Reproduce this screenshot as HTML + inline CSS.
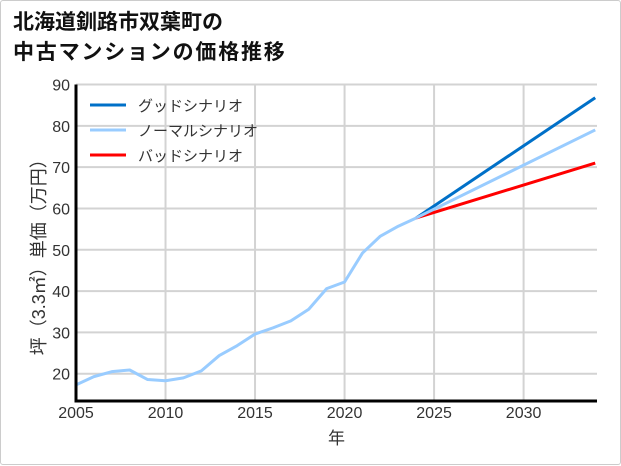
<!DOCTYPE html>
<html><head><meta charset="utf-8"><style>
html,body{margin:0;padding:0;background:#fff}
#wrap{position:relative;width:619px;height:463px;border:1px solid #ccc;border-radius:3px;background:#fff;font-family:"Liberation Sans","Noto Sans CJK JP",sans-serif}
#title{position:absolute;left:12px;top:5px;font-size:21px;font-weight:bold;line-height:30px;color:#111;font-family:"Noto Sans CJK JP",sans-serif}
#title .l2{letter-spacing:1.8px}
svg{position:absolute;left:0;top:0}
</style></head><body>
<div id="wrap">
<div id="title">北海道釧路市双葉町の<br><span class="l2">中古マンションの価格推移</span></div>
<svg id="chart" width="621" height="465"></svg>
</div>
<script>
const years=[2005,2006,2007,2008,2009,2010,2011,2012,2013,2014,2015,2016,2017,2018,2019,2020,2021,2022,2023,2024];
const history=[17.3,19.3,20.5,20.9,18.6,18.3,19.0,20.7,24.4,26.8,29.6,31.1,32.8,35.6,40.6,42.2,49.2,53.3,55.7,57.7];
const projYears=[2024,2034];
const good=[57.7,86.8];
const normal=[57.7,79.0];
const bad=[57.7,71.0];
const xTicks=[2005,2010,2015,2020,2025,2030];
const yTicks=[20,30,40,50,60,70,80,90];
const legendLabels=["グッドシナリオ","ノーマルシナリオ","バッドシナリオ"];

const L=75,R=596,T=83.5,B=400,xMin=2005,xMax=2034.1,yMin=13.4,yMax=90;
const NS="http://www.w3.org/2000/svg";
const svg=document.getElementById('chart');
function X(v){return L+(v-xMin)/(xMax-xMin)*(R-L);}
function Y(v){return B-(v-yMin)/(yMax-yMin)*(B-T);}
function mk(t,a,p){const e=document.createElementNS(NS,t);for(const k in a)e.setAttribute(k,a[k]);(p||svg).appendChild(e);return e;}
const F='"Liberation Sans","Noto Sans CJK JP",sans-serif';
yTicks.forEach(v=>{
 const g=mk('line',{x1:L,x2:R,y1:Y(v),y2:Y(v),stroke:'#d3d3d3','stroke-width':2});
 
 
 const t=mk('text',{x:L-6,y:Y(v)+6,'text-anchor':'end','font-size':16,fill:'#333','font-family':F});
 t.textContent=v;
 
 
});
xTicks.forEach(v=>{
 const g=mk('line',{x1:X(v),x2:X(v),y1:T,y2:B,stroke:'#d3d3d3','stroke-width':2});
 
 
 const t=mk('text',{x:X(v),y:B+17,'text-anchor':'middle','font-size':16,fill:'#333','font-family':F});
 t.textContent=v;
 
 
});
function line(xs,ys,color,w,name){
 const p=mk('polyline',{points:xs.map((x,i)=>X(x)+','+Y(ys[i])).join(' '),fill:'none',stroke:color,'stroke-width':w,'stroke-linejoin':'round'});
 
 
}
line(projYears,good,'#0070c8',3,'good-scenario-line');
line(projYears,bad,'#ff0000',3,'bad-scenario-line');
line(projYears,normal,'#99ccff',3,'normal-scenario-line');
line(years,history,'#99ccff',3,'history-line');
const ax=mk('polyline',{points:`${L},${T} ${L},${B} ${R},${B}`,fill:'none',stroke:'#000','stroke-width':3});


const colors=['#0070c8','#99ccff','#ff0000'];
legendLabels.forEach((s,i)=>{
 const y=104+i*25;
 const l=mk('line',{x1:89,x2:125,y1:y,y2:y,stroke:colors[i],'stroke-width':3});
 
 
 const t=mk('text',{x:137,y:y+6,'font-size':15,fill:'#333','font-family':F});
 t.textContent=s;
 
 
});
const xt=mk('text',{x:(L+R)/2,y:443,'text-anchor':'middle','font-size':17,fill:'#333','font-family':F});
xt.textContent='年';


const yt=mk('text',{x:0,y:0,'text-anchor':'middle','font-size':18,fill:'#333','font-family':F,transform:`translate(44,${(T+B)/2+10}) rotate(-90)`});
yt.textContent='坪（3.3㎡）単価（万円）';


</script>
</body></html>
